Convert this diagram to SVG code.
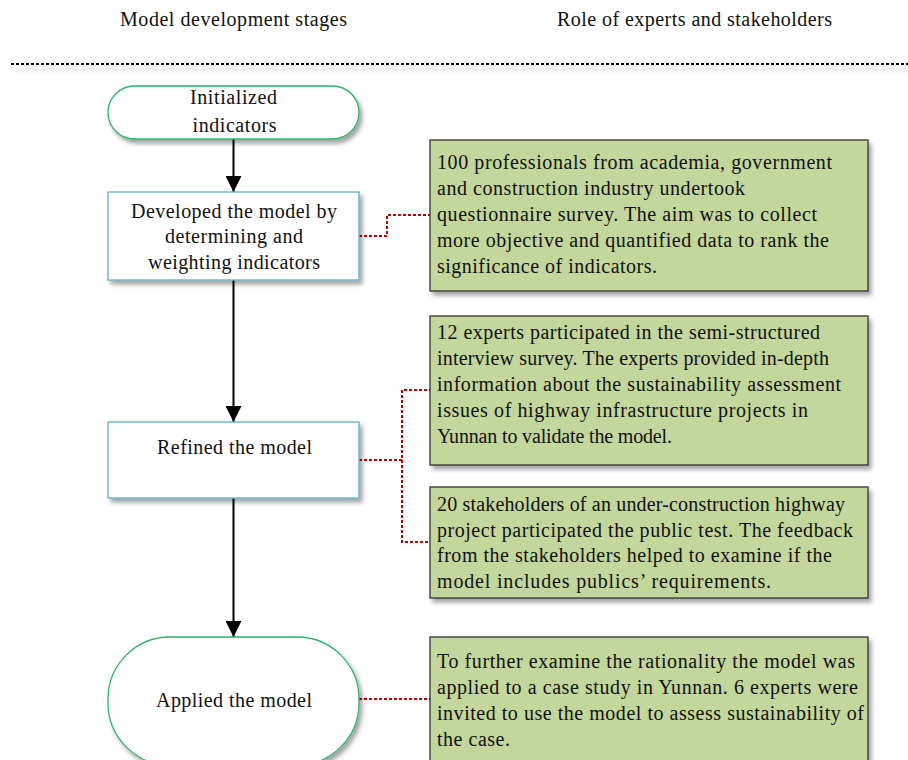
<svg xmlns="http://www.w3.org/2000/svg" width="908" height="760" viewBox="0 0 908 760">
  <defs>
    <filter id="shadow" x="-10%" y="-10%" width="130%" height="140%">
      <feDropShadow dx="3" dy="4" stdDeviation="2.2" flood-color="#000" flood-opacity="0.35"/>
    </filter>
    <filter id="haze" filterUnits="userSpaceOnUse" x="0" y="55" width="908" height="30">
      <feGaussianBlur stdDeviation="2"/>
    </filter>
    <marker id="arrow" viewBox="0 0 16 16" refX="16" refY="8" markerWidth="16" markerHeight="16" markerUnits="userSpaceOnUse" orient="auto">
      <path d="M0,0 L16,8 L0,16 Z" fill="#000"/>
    </marker>
  </defs>
  <style>
    text { font-family: "Liberation Serif", "Times New Roman", serif; font-size: 20px; fill: #111; }
    .mid { text-anchor: middle; }
    .terminal { fill: #fff; stroke: #2db36b; stroke-width: 1.3; }
    .process { fill: #fff; stroke: #5aaed0; stroke-width: 1.3; }
    .note { fill: #c3d69b; stroke: #333; stroke-width: 1.3; }
    .flow { fill: none; stroke: #000; stroke-width: 2; marker-end: url(#arrow); }
    .link { fill: none; stroke: #c00000; stroke-width: 2; stroke-dasharray: 3 2; }
  </style>

  <!-- column headings -->
  <text class="mid" x="233.5" y="26" textLength="227" lengthAdjust="spacing">Model development stages</text>
  <text class="mid" x="694.5" y="26" textLength="275" lengthAdjust="spacing">Role of experts and stakeholders</text>
  <rect x="14" y="66" width="894" height="6" fill="#000" opacity="0.06" filter="url(#haze)"/>
  <line x1="11" y1="64" x2="908" y2="64" stroke="#000" stroke-width="2" stroke-dasharray="3 2"/>

  <!-- connectors -->
  <g id="connectors">
    <line class="flow" x1="233.5" y1="139" x2="233.5" y2="192"/>
    <line class="flow" x1="233.5" y1="280" x2="233.5" y2="422"/>
    <line class="flow" x1="233.5" y1="498" x2="233.5" y2="637"/>
    <polyline class="link" points="359,236 387,236 387,215 430,215"/>
    <polyline class="link" points="359,460 402,460 402,390 430,390"/>
    <polyline class="link" points="402,460 402,542 430,542"/>
    <line class="link" x1="359" y1="699" x2="430" y2="699"/>
  </g>

  <!-- process stages -->
  <g id="initialized">
    <rect class="terminal" x="108" y="86" width="251" height="53" rx="26.5" filter="url(#shadow)"/>
    <text class="mid" x="233.5" y="104" textLength="87" lengthAdjust="spacing">Initialized</text>
    <text class="mid" x="234.5" y="132" textLength="84" lengthAdjust="spacing">indicators</text>
  </g>

  <g id="developed">
    <rect class="process" x="108" y="192" width="251" height="88" filter="url(#shadow)"/>
    <text class="mid" x="234" y="218" textLength="206" lengthAdjust="spacing">Developed the model by</text>
    <text class="mid" x="234" y="243" textLength="138" lengthAdjust="spacing">determining and</text>
    <text class="mid" x="234" y="269" textLength="172" lengthAdjust="spacing">weighting indicators</text>
  </g>

  <g id="refined">
    <rect class="process" x="108" y="422" width="251" height="76" filter="url(#shadow)"/>
    <text class="mid" x="234.5" y="454" textLength="155" lengthAdjust="spacing">Refined the model</text>
  </g>

  <g id="applied">
    <rect class="terminal" x="108" y="637" width="251" height="128" rx="62" filter="url(#shadow)"/>
    <text class="mid" x="234" y="707" textLength="156" lengthAdjust="spacing">Applied the model</text>
  </g>

  <!-- expert and stakeholder roles -->
  <g id="survey">
    <rect class="note" x="430" y="140" width="438" height="151" filter="url(#shadow)"/>
    <text x="437" y="169" textLength="395" lengthAdjust="spacing">100 professionals from academia, government</text>
    <text x="437" y="195" textLength="308" lengthAdjust="spacing">and construction industry undertook</text>
    <text x="437" y="221" textLength="380" lengthAdjust="spacing">questionnaire survey. The aim was to collect</text>
    <text x="437" y="247" textLength="392" lengthAdjust="spacing">more objective and quantified data to rank the</text>
    <text x="437" y="273" textLength="220" lengthAdjust="spacing">significance of indicators.</text>
  </g>

  <g id="interview">
    <rect class="note" x="430" y="316" width="438" height="149" filter="url(#shadow)"/>
    <text x="437" y="339" textLength="383" lengthAdjust="spacing">12 experts participated in the semi-structured</text>
    <text x="437" y="365" textLength="392" lengthAdjust="spacing">interview survey. The experts provided in-depth</text>
    <text x="437" y="391" textLength="404" lengthAdjust="spacing">information about the sustainability assessment</text>
    <text x="437" y="417" textLength="371" lengthAdjust="spacing">issues of highway infrastructure projects in</text>
    <text x="437" y="443" textLength="235" lengthAdjust="spacing">Yunnan to validate the model.</text>
  </g>

  <g id="public-test">
    <rect class="note" x="430" y="487" width="438" height="111" filter="url(#shadow)"/>
    <text x="437" y="511" textLength="408" lengthAdjust="spacing">20 stakeholders of an under-construction highway</text>
    <text x="437" y="537" textLength="416" lengthAdjust="spacing">project participated the public test. The feedback</text>
    <text x="437" y="562" textLength="395" lengthAdjust="spacing">from the stakeholders helped to examine if the</text>
    <text x="437" y="588" textLength="334" lengthAdjust="spacing">model includes publics’ requirements.</text>
  </g>

  <g id="case-study">
    <rect class="note" x="430" y="637" width="438" height="130" filter="url(#shadow)"/>
    <text x="437" y="668" textLength="418" lengthAdjust="spacing">To further examine the rationality the model was</text>
    <text x="437" y="694" textLength="421" lengthAdjust="spacing">applied to a case study in Yunnan. 6 experts were</text>
    <text x="437" y="720" textLength="427" lengthAdjust="spacing">invited to use the model to assess sustainability of</text>
    <text x="437" y="746" textLength="73" lengthAdjust="spacing">the case.</text>
  </g>
</svg>
